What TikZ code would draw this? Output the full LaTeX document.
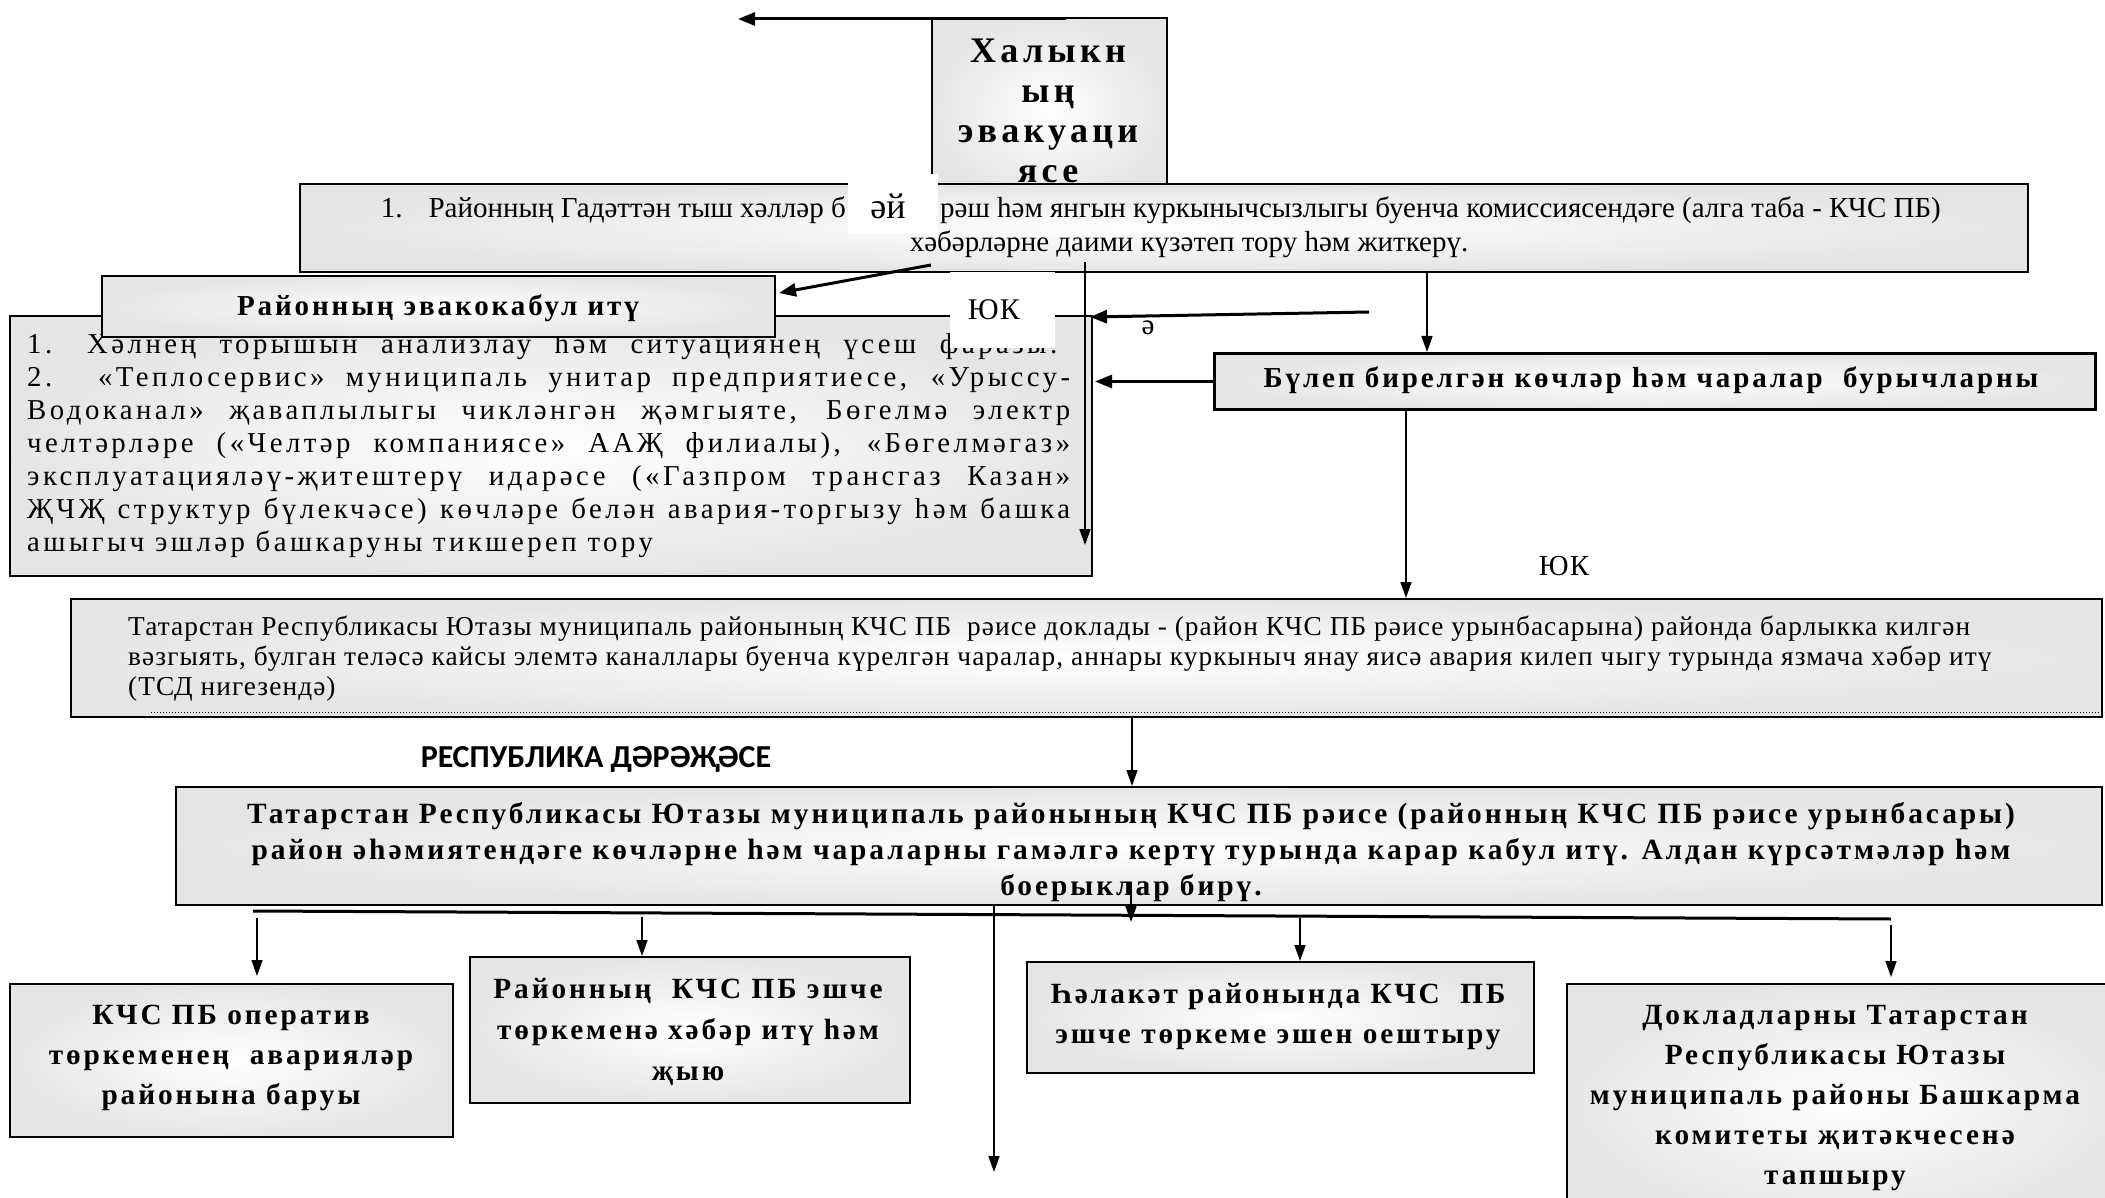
\documentclass[tikz,border=0pt]{standalone}
\usepackage{fontspec}
\setmainfont{Liberation Serif}
\newfontfamily\bsp{Liberation Serif}[LetterSpace=10]
\newfontfamily\tsp{Liberation Serif}[LetterSpace=12]
\newfontfamily\rsp{Liberation Serif}[LetterSpace=12]
\newfontfamily\rsq{Liberation Serif}[LetterSpace=4]
\newfontfamily\sansb{Carlito}
\usetikzlibrary{arrows.meta,calc}
\begin{document}
\begin{tikzpicture}[x=1pt,y=-1pt,
  box/.style={draw=black, line width=2pt, inner color=white, outer color=black!10, inner sep=0pt, anchor=north west},
  patch/.style={fill=white, inner sep=0pt, anchor=north west},
  arr/.style={-{Triangle[length=16pt,width=11pt]}, line width=1.6pt},
  arrthick/.style={-{Triangle[length=17pt,width=13pt]}, line width=3pt},
  btxt/.style={font=\bsp\bfseries\fontsize{29}{36}\selectfont, align=center, inner sep=0pt},
  rtxt/.style={font=\fontsize{29}{33}\selectfont, inner sep=0pt},
  stxt/.style={font=\rsp\fontsize{28.8}{33}\selectfont, inner sep=0pt, anchor=mid west},
  qtxt/.style={font=\rsq\fontsize{27.3}{30}\selectfont, inner sep=0pt, anchor=mid west},
]
\useasboundingbox (0,0) rectangle (2105,1198);
\clip (0,0) rectangle (2105,1198);

% title box
\node[box, minimum width=235, minimum height=183] (title) at (931,17) {};
\node[btxt, font=\tsp\bfseries\fontsize{36}{40}\selectfont] (titletxt) at (1048,111) {Халыкн\\ың\\эвакуаци\\ясе};

% box 1
\node[box, minimum width=1728, minimum height=88] (box1) at (299,183) {};
\node[rtxt, anchor=mid east] (b1l1a) at (846,215) {1.\hspace{26pt}Районның Гадәттән тыш хәлләр б};
\node[rtxt, anchor=mid west] (b1l1b) at (940,215) {рәш һәм янгын куркынычсызлыгы буенча комиссиясендәге (алга таба - КЧС ПБ)};
\node[rtxt, anchor=mid] (b1l2) at (1189,249) {хәбәрләрне даими күзәтеп тору һәм житкерү.};
\node[patch, minimum width=90, minimum height=60] (ejp) at (848,174) {};
\node[font=\fontsize{36}{36}\selectfont, inner sep=0pt] (ej) at (888,206) {әй};

% top arrow
\coordinate (topR) at (1066,19);
\coordinate (topL) at (738,19);
\draw[arrthick] (topR) -- (topL);

% big left box
\node[box, minimum width=1082, minimum height=260] (big) at (9,315) {};
\node[stxt] (g1n) at (27,351) {1.};
\node[stxt] (g1) at (87,351) {\makebox[970pt][s]{Хәлнең торышын анализлау һәм ситуациянең үсеш фаразы.}};
\node[stxt] (g2) at (27,384) {\makebox[1043pt][s]{2. «Теплосервис» муниципаль унитар предприятиесе, «Урыссу-}};
\node[stxt] (g3) at (27,417) {\makebox[1043pt][s]{Водоканал» җаваплылыгы чикләнгән җәмгыяте, Бөгелмә электр}};
\node[stxt] (g4) at (27,450) {\makebox[1043pt][s]{челтәрләре («Челтәр компаниясе» ААҖ филиалы), «Бөгелмәгаз»}};
\node[stxt] (g5) at (27,483) {\makebox[1043pt][s]{эксплуатацияләү-җитештерү идарәсе («Газпром трансгаз Казан»}};
\node[stxt] (g6) at (27,516) {\makebox[1043pt][s]{ҖЧҖ структур бүлекчәсе) көчләре белән авария-торгызу һәм башка}};
\node[stxt] (g7) at (27,549) {ашыгыч эшләр башкаруны тикшереп тору};

% Районның эвакокабул итү
\node[box, minimum width=673, minimum height=61] (rayon) at (101,275) {};
\node[btxt] (rayontxt) at (438,308) {Районның эвакокабул итү};

% ЮК patch
\node[patch, minimum width=105, minimum height=76] (ykp) at (950,272) {};
\node[rtxt, font=\rsq\fontsize{30}{33}\selectfont] (yk1) at (994,310) {ЮК};

% arrows around
\coordinate (a2s) at (931,265);
\draw[arrthick] (a2s) -- ($(rayon.north east)+(3,18)$);
\coordinate (v1) at (1085,262);
\coordinate (v1e) at (1085,545);
\draw[arr] (v1) -- (v1e);
\coordinate (r1) at (1369,312);
\coordinate (r2) at (1090,317);
\draw[arrthick] (r1) -- (r2);
\node[rtxt] (elabel) at (1148,328) {ә};

% Бүлеп
\node[box, line width=3pt, minimum width=881, minimum height=56] (bulep) at (1213,352) {};
\node[btxt] (buleptxt) at (1651,380) {Бүлеп бирелгән көчләр һәм чаралар\ \ бурычларны};
\draw[arrthick] (bulep.west) -- ([xshift=2pt]big.east |- bulep.west);
\coordinate (x1) at (1427,0);
\draw[arr] (x1 |- box1.south) -- (x1 |- bulep.north);

% report box
\node[box, minimum width=2031, minimum height=118] (report) at (70,598) {};
\node[qtxt] (rp1) at (128,633) {Татарстан Республикасы Ютазы муниципаль районының КЧС ПБ\ \ рәисе доклады - (район КЧС ПБ рәисе урынбасарына) районда барлыкка килгән};
\node[qtxt] (rp2) at (128,663) {вәзгыять, булган теләсә кайсы элемтә каналлары буенча күрелгән чаралар, аннары куркыныч янау яисә авария килеп чыгу турында язмача хәбәр итү};
\node[qtxt] (rp3) at (128,693) {(ТСД нигезендә)};
\draw[dotted, line width=1pt] (151,712) -- (2104,712);
\coordinate (x2) at (1406,0);
\draw[arr] (x2 |- bulep.south) -- (x2 |- report.north);
\node[rtxt, font=\rsq\fontsize{29}{33}\selectfont] (yk2) at (1564,566) {ЮК};

% Республика
\node[font=\sansb\bfseries\fontsize{32}{34}\selectfont, inner sep=0pt] (resp) at (596,759) {РЕСПУБЛИКА ДӘРӘҖӘСЕ};

% decision box
\node[box, minimum width=1926, minimum height=118] (decision) at (175,786) {};
\node[btxt, font=\bsp\bfseries\fontsize{29.4}{36}\selectfont] (dectxt) at (1131,852) {Татарстан Республикасы Ютазы муниципаль районының КЧС ПБ рәисе (районның КЧС ПБ рәисе урынбасары)\\район әһәмиятендәге көчләрне һәм чараларны гамәлгә кертү турында карар кабул итү. Алдан күрсәтмәләр һәм\\боерыклар бирү.};
\coordinate (x3) at (1132,0);
\draw[arr] (x3 |- report.south) -- (x3 |- decision.north);

% bus
\coordinate (busL) at (253,911);
\coordinate (busR) at (1891,919);
\draw[line width=3pt] (busL) -- (busR);
\coordinate (d1) at (1131,882);
\coordinate (d2) at (1131,922);
\draw[arr] (d1) -- (d2);
\coordinate (x4) at (994,0);
\coordinate (longE) at (994,1172);
\draw[arr] (x4 |- decision.south) -- (longE);

% bottom boxes
\node[box, minimum width=443, minimum height=153] (A) at (9,983) {};
\node[btxt, font=\bsp\bfseries\fontsize{29.3}{40}\selectfont] (Atxt) at (231,1058) {КЧС ПБ оператив\\төркеменең\ \ аварияләр\\районына баруы};
\node[box, minimum width=440, minimum height=146] (B) at (469,956) {};
\node[btxt, font=\bsp\bfseries\fontsize{29.3}{41}\selectfont] (Btxt) at (688,1032) {Районның\ \ КЧС ПБ эшче\\төркеменә хәбәр итү һәм\\җыю};
\node[box, minimum width=507, minimum height=111] (C) at (1026,961) {};
\node[btxt, font=\bsp\bfseries\fontsize{29.3}{40}\selectfont] (Ctxt) at (1278,1017) {Һәлакәт районында КЧС\ \ ПБ\\эшче төркеме эшен оештыру};
\node[box, minimum width=560, minimum height=240] (D) at (1566,983) {};
\node[btxt, font=\bsp\bfseries\fontsize{29.3}{40}\selectfont] (Dtxt) at (1835,1098) {Докладларны Татарстан\\Республикасы Ютазы\\муниципаль районы Башкарма\\комитеты җитәкчесенә\\тапшыру};

\coordinate (ea) at (257,918);
\draw[arr] (ea) -- ([yshift=7pt]ea |- A.north);
\coordinate (eb) at (642,917);
\draw[arr] (eb) -- (eb |- B.north);
\coordinate (ec) at (1300,918);
\draw[arr] (ec) -- (ec |- C.north);
\coordinate (ed) at (1891,925);
\draw[arr] (ed) -- ([yshift=6pt]ed |- D.north);
\end{tikzpicture}
\end{document}
